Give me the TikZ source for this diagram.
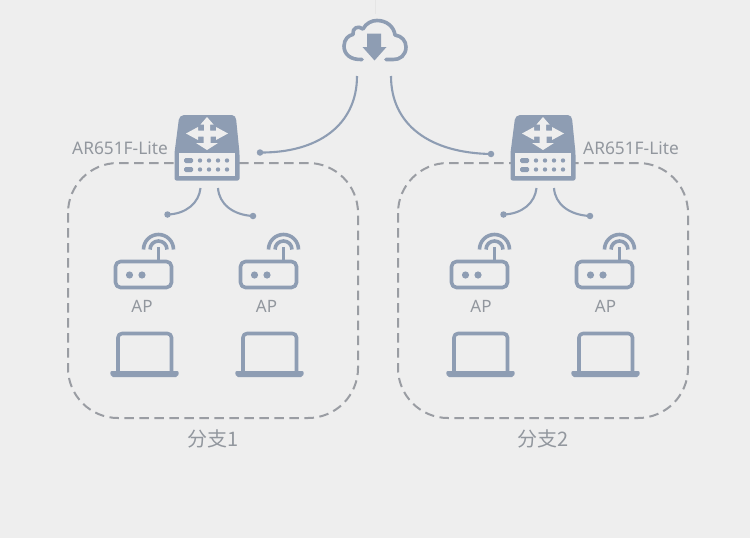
\documentclass[tikz,border=0pt]{standalone}
\usepackage{fontspec}
\setmainfont{Noto Sans}
\newfontfamily\cjkfont{Noto Sans CJK SC}
\usetikzlibrary{arrows.meta}
\definecolor{bgc}{HTML}{EEEEEE}
\definecolor{ico}{HTML}{8E9DB3}
\definecolor{txt}{HTML}{92979E}
\definecolor{dsh}{HTML}{9A9DA3}
\tikzset{
  x=1pt,y=-1pt,
  icoline/.style={draw=ico,line width=3.6pt,line join=round},
  icofill/.style={fill=ico,draw=none},
  wire/.style={draw=ico,line width=2.1pt},
  dot/.style={circle,fill=ico,draw=none,inner sep=0pt,minimum size=6.5pt},
  zone/.style={draw=dsh,line width=2pt,dash pattern=on 9.5pt off 5.5pt,rounded corners=50pt},
  lbl/.style={text=txt,font=\fontsize{17.3}{19}\selectfont,inner sep=0pt},
  aplbl/.style={text=txt,font=\fontsize{17}{19}\selectfont,inner sep=0pt},
  zlbl/.style={text=txt,font=\cjkfont\fontsize{20}{23}\selectfont,inner sep=0pt},
  ap/.pic={
    \draw[icoline,rounded corners=5pt] (115.5,261.5) rectangle (171.5,287.5);
    \fill[ico] (129.5,275) circle (3.6) (142,275) circle (3.6);
    \draw[icoline] (158.5,247) -- (158.5,261);
    \draw[icoline] (150,249.5) arc[start angle=180,end angle=360,radius=8.5];
    \draw[icoline] (143.5,249.5) arc[start angle=180,end angle=360,radius=15];
    \draw[icoline,rounded corners=4pt] (118,372) -- (118,333.5) -- (171.5,333.5) -- (171.5,372);
    \fill[ico,rounded corners=2pt] (110,371) -- (179,371) -- (178,377) -- (111,377) -- cycle;
  },
  router/.pic={
    \fill[ico,rounded corners=2pt] (182,115) -- (234,115) -- (236,118) -- (239.5,153) -- (239.5,180.5) -- (174.5,180.5) -- (174.5,153) -- (179,118) -- cycle;
    \fill[bgc] (179,153) rectangle (235,176);
    \fill[bgc] (207,117) -- (213.5,124.5) -- (210,124.5) -- (210,130.5) -- (216,130.5) -- (216,127) -- (228,133.5) -- (216,140) -- (216,136.5) -- (210.5,136.5) -- (210.5,143) -- (218,143) -- (207,150) -- (196,143) -- (203.5,143) -- (203.5,136.5) -- (198,136.5) -- (198,140) -- (186,133.5) -- (198,127) -- (198,130.5) -- (204,130.5) -- (204,124.5) -- (200.5,124.5) -- cycle;
    \fill[ico,rounded corners=1.5pt] (184,158) rectangle (193,163);
    \fill[ico,rounded corners=1.5pt] (184,167) rectangle (193,172);
    \foreach \dx in {200,209,218,227}{\fill[ico] (\dx,160.5) circle (2.2) (\dx,169.5) circle (2.2);}
  }
}
\begin{document}
\begin{tikzpicture}
\useasboundingbox (0,0) rectangle (750,538);
\fill[bgc] (0,0) rectangle (750,538);
\draw[draw=black!10,line width=1pt] (375,0) -- (375,14);
% zones
\draw[zone] (68,163) rectangle (358,418);
\draw[zone] (398,163) rectangle (688,418);
% cloud
\draw[icoline,line cap=round] (362,59.5) .. controls (350,60) and (344,54) .. (344,46)
  .. controls (344,39) and (349,35) .. (353,34.5)
  .. controls (352,28) and (358,25) .. (363,29)
  .. controls (366,23) and (372,20.5) .. (377,20.5)
  .. controls (387,20.5) and (394,27) .. (395,35)
  .. controls (402,36) and (406,41) .. (406,47)
  .. controls (406,55) and (400,60) .. (393,59.5) -- (386,59.5);
\fill[ico] (367,33.5) -- (381,33.5) -- (381,47) -- (386.5,47) -- (374.5,60.5) -- (362.5,47) -- (367,47) -- cycle;
% devices
\pic at (0,0) {router};
\pic at (336,0) {router};
\pic at (0,0) {ap};
\pic at (125,0) {ap};
\pic at (336,0) {ap};
\pic at (461,0) {ap};
% connector ends
\coordinate (cloudL) at (357,76);
\coordinate (cloudR) at (391,76);
\node[dot] (r1in) at (260,152.5) {};
\node[dot] (r2in) at (491,154) {};
\coordinate (r1a) at (200.5,188);
\coordinate (r1b) at (218,188);
\coordinate (r2a) at (536.5,188);
\coordinate (r2b) at (554,188);
\node[dot] (p1) at (167.5,214.5) {};
\node[dot] (p2) at (253,216) {};
\node[dot] (p3) at (503.5,214.5) {};
\node[dot] (p4) at (590,216) {};
\draw[wire] (cloudL) .. controls (357,125) and (318,153) .. (r1in.center);
\draw[wire] (cloudR) .. controls (391,125) and (430,153) .. (r2in.center);
\draw[wire] (r1a) .. controls (199,203) and (186,214) .. (p1.center);
\draw[wire] (r1b) .. controls (219,204) and (233,215) .. (p2.center);
\draw[wire] (r2a) .. controls (535,203) and (522,214) .. (p3.center);
\draw[wire] (r2b) .. controls (555,204) and (569,215) .. (p4.center);
% labels
\node[lbl,anchor=base west] (lab1) at (72,154.3) {AR651F-Lite};
\node[lbl,anchor=base west] (lab2) at (583,154.3) {AR651F-Lite};
\node[aplbl] (ap1) at (142,306) {AP};
\node[aplbl] (ap2) at (266.5,306) {AP};
\node[aplbl] (ap3) at (481,306) {AP};
\node[aplbl] (ap4) at (605.5,306) {AP};
\node[zlbl] (z1) at (213,439) {分支1};
\node[zlbl] (z2) at (543.5,439) {分支2};
\end{tikzpicture}
\end{document}
